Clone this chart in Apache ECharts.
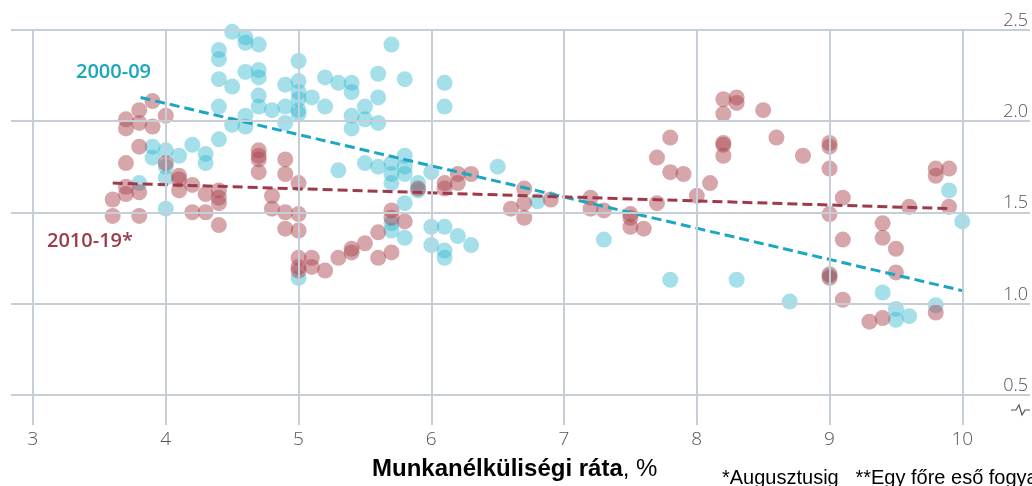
<!DOCTYPE html>
<html>
<head>
<meta charset="utf-8">
<script src="https://cdn.jsdelivr.net/npm/echarts@6/dist/echarts.min.js"></script>
<style>
  html, body { margin: 0; padding: 0; background: #fff; }
  #chart { width: 1032px; height: 486px; }
</style>
</head>
<body>
<div id="chart"></div>
<script>
// tick values
const xTicks = [3, 4, 5, 6, 7, 8, 9, 10];
const yTicks = [0.5, 1.0, 1.5, 2.0, 2.5];

// 2000-09: [unemployment %, y]
const points2000 = [
  [4.7, 2.55], [4.5, 2.49], [4.6, 2.46], [4.6, 2.43], [4.7, 2.42], [4.4, 2.39], [4.4, 2.34],
  [5.0, 2.33], [4.6, 2.27], [4.7, 2.28], [4.7, 2.24], [4.4, 2.23], [4.5, 2.19], [4.9, 2.20],
  [5.0, 2.22], [4.7, 2.14], [4.7, 2.08], [4.4, 2.08], [4.8, 2.06], [4.9, 2.08], [5.0, 2.06],
  [5.0, 2.12], [4.6, 2.03], [4.5, 1.98], [4.6, 1.97], [4.9, 1.99], [4.4, 1.90], [4.2, 1.87],
  [3.9, 1.86], [3.9, 1.80], [4.0, 1.84], [4.1, 1.81], [4.3, 1.82], [4.3, 1.77], [4.0, 1.75],
  [4.0, 1.69], [3.8, 1.66], [4.0, 1.52], [5.7, 2.42], [5.2, 2.24], [5.3, 2.21], [5.4, 2.21],
  [5.4, 2.16], [5.6, 2.26], [5.8, 2.23], [6.1, 2.21], [6.1, 2.08], [5.0, 2.16], [5.1, 2.13],
  [5.0, 2.04], [5.2, 2.08], [5.4, 2.03], [5.5, 2.08], [5.6, 2.13], [5.5, 2.01], [5.6, 1.99],
  [5.4, 1.96], [5.3, 1.73], [5.5, 1.77], [5.6, 1.75], [5.7, 1.77], [5.8, 1.81], [5.8, 1.75],
  [5.7, 1.71], [5.8, 1.71], [5.7, 1.66], [5.9, 1.66], [5.9, 1.62], [6.0, 1.72], [5.8, 1.55],
  [5.7, 1.44], [5.7, 1.40], [5.8, 1.36], [6.0, 1.42], [6.1, 1.42], [6.2, 1.37], [6.3, 1.32],
  [6.0, 1.32], [6.1, 1.29], [6.1, 1.25], [5.0, 1.14], [6.5, 1.75], [6.8, 1.56], [7.3, 1.35],
  [7.8, 1.13], [8.3, 1.13], [8.7, 1.01], [9.4, 1.06], [9.5, 0.97], [9.5, 0.91], [9.6, 0.93],
  [9.8, 0.99], [9.9, 1.62], [10.0, 1.45], [9.0, 1.15]
];

// 2010-19*
const points2010 = [
  [3.9, 2.11], [3.8, 2.06], [3.7, 2.01], [3.7, 1.96], [3.8, 1.99], [3.9, 1.97], [4.0, 2.03],
  [3.8, 1.86], [3.7, 1.77], [4.0, 1.77], [3.7, 1.64], [3.7, 1.60], [3.8, 1.61], [3.6, 1.57],
  [3.6, 1.48], [3.8, 1.48], [4.1, 1.70], [4.1, 1.68], [4.1, 1.62], [4.2, 1.65], [4.3, 1.60],
  [4.4, 1.62], [4.4, 1.58], [4.4, 1.55], [4.2, 1.50], [4.3, 1.50], [4.4, 1.43], [4.7, 1.84],
  [4.7, 1.81], [4.7, 1.79], [4.7, 1.72], [4.9, 1.79], [4.9, 1.71], [5.0, 1.66], [4.8, 1.59],
  [4.8, 1.52], [4.9, 1.50], [5.0, 1.49], [4.9, 1.41], [5.0, 1.40], [5.0, 1.25], [5.0, 1.20],
  [5.0, 1.18], [5.1, 1.25], [5.1, 1.20], [5.2, 1.18], [5.3, 1.25], [5.4, 1.30], [5.4, 1.28],
  [5.5, 1.33], [5.6, 1.39], [5.6, 1.25], [5.7, 1.28], [5.7, 1.51], [5.7, 1.47], [5.8, 1.45],
  [5.9, 1.63], [6.1, 1.66], [6.1, 1.63], [6.2, 1.71], [6.2, 1.66], [6.3, 1.71], [6.6, 1.52],
  [6.7, 1.63], [6.7, 1.55], [6.7, 1.47], [6.9, 1.57], [7.2, 1.58], [7.2, 1.52], [7.3, 1.51],
  [7.5, 1.49], [7.5, 1.47], [7.5, 1.42], [7.6, 1.41], [7.7, 1.80], [7.7, 1.55], [7.8, 1.91],
  [7.8, 1.72], [7.9, 1.71], [8.0, 1.59], [8.1, 1.66], [8.2, 2.12], [8.2, 2.04], [8.3, 2.13],
  [8.3, 2.10], [8.2, 1.88], [8.2, 1.87], [8.2, 1.81], [8.5, 2.06], [8.6, 1.91], [8.8, 1.81],
  [9.0, 1.88], [9.0, 1.86], [9.0, 1.74], [9.0, 1.49], [9.1, 1.58], [9.1, 1.35], [9.4, 1.44],
  [9.4, 1.36], [9.5, 1.30], [9.6, 1.53], [9.8, 1.74], [9.8, 1.70], [9.9, 1.74], [9.9, 1.53],
  [9.5, 1.17], [9.0, 1.16], [9.0, 1.14], [9.1, 1.02], [9.3, 0.90], [9.4, 0.92], [9.8, 0.95]
];

// dashed trend lines (end points)
const trend2000 = [[3.81, 2.13], [10.0, 1.07]];
const trend2010 = [[3.6, 1.66], [9.9, 1.52]];

const gridColor = '#c6ced7';

const chart = echarts.init(document.getElementById('chart'));

chart.setOption({
  animation: false,
  grid: { left: 11, right: 2, top: 30, bottom: 61 },
  xAxis: {
    type: 'value',
    min: 2.834,
    max: 10.51,
    axisLine: { show: false },
    axisTick: { show: false },
    splitLine: { show: false },
    axisLabel: {
      customValues: xTicks,
      color: '#555',
      fontSize: 19,
      fontWeight: 300,
      fontFamily: 'Open Sans',
      margin: 5
    }
  },
  yAxis: {
    type: 'value',
    position: 'right',
    min: 0.333,
    max: 2.5,
    axisLine: { show: false },
    axisTick: { show: false },
    splitLine: { show: false },
    axisLabel: {
      customValues: yTicks,
      inside: true,
      margin: 2,
      verticalAlign: 'bottom',
      color: '#555',
      fontSize: 18,
      fontWeight: 300,
      fontFamily: 'Open Sans',
      formatter: v => v.toFixed(1)
    }
  },
  series: [
    {
      type: 'line',
      data: [],
      silent: true,
      z: 0,
      markLine: {
        silent: true,
        symbol: 'none',
        label: { show: false },
        lineStyle: { color: gridColor, width: 2, type: 'solid' },
        emphasis: { disabled: true },
        data: yTicks.map(v => ({ yAxis: v })).concat(xTicks.map(v => ({ xAxis: v })))
      }
    },
    {
      name: '2000-09',
      type: 'scatter',
      symbolSize: 16,
      z: 2,
      itemStyle: { color: 'rgba(50,185,208,0.55)' },
      data: points2000
    },
    {
      name: '2010-19*',
      type: 'scatter',
      symbolSize: 16,
      z: 2,
      itemStyle: { color: 'rgba(170,70,80,0.6)' },
      data: points2010
    },
    {
      type: 'line',
      z: 3,
      symbol: 'none',
      silent: true,
      lineStyle: { color: '#1ba7c2', width: 3, type: [10, 5] },
      data: trend2000
    },
    {
      type: 'line',
      z: 3,
      symbol: 'none',
      silent: true,
      lineStyle: { color: '#9e3a4a', width: 3, type: [10, 5] },
      data: trend2010
    }
  ],
  graphic: [
    {
      type: 'text', left: 76, top: 62, z: 10,
      style: { text: '2000-09', fill: '#1aa6bd', font: '600 20px "Open Sans"' }
    },
    {
      type: 'text', left: 47, top: 231, z: 10,
      style: { text: '2010-19*', fill: '#9c3b4c', font: '600 20px "Open Sans"' }
    },
    {
      type: 'text', left: 372, top: 457,
      style: {
        text: '{b|Munkanélküliségi ráta}{n|, %}',
        rich: {
          b: { font: 'bold 24px "Liberation Sans"', fill: '#000' },
          n: { font: '24px "Liberation Sans"', fill: '#000' }
        }
      }
    },
    {
      type: 'text', left: 722, top: 468,
      style: { text: '*Augusztusig   **Egy főre eső fogyasztás', fill: '#000', font: '20px "Liberation Sans"' }
    },
    {
      type: 'polyline',
      shape: { points: [[1011, 410], [1016, 410], [1019, 405], [1022, 415], [1025, 410], [1030, 410]] },
      style: { stroke: '#555', lineWidth: 1.2, fill: null }
    }
  ]
});
</script>
</body>
</html>
